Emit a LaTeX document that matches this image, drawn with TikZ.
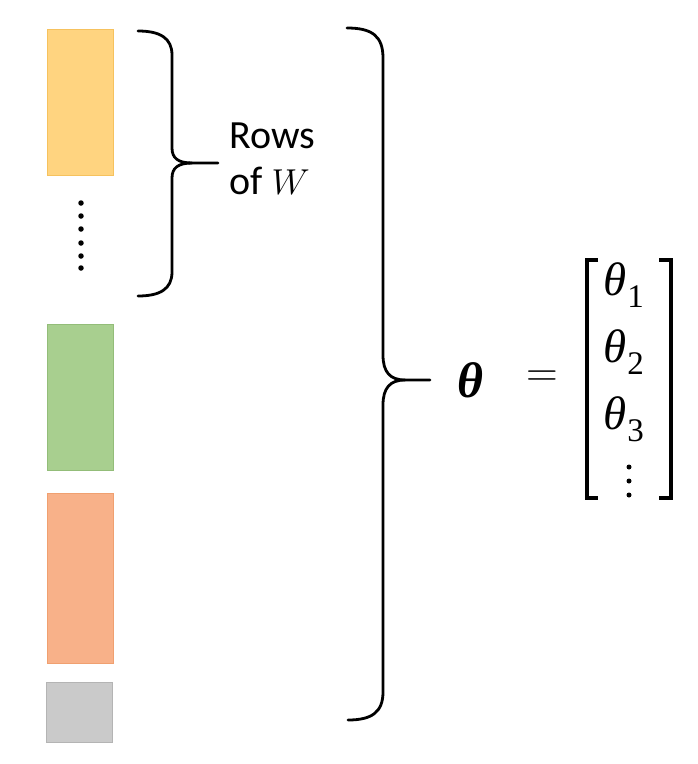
\RequirePackage{fix-cm}
\documentclass[tikz,border=0pt]{standalone}
\usepackage{amsmath}
\usepackage{fontspec}
\newfontfamily\calibri{Carlito}
\newfontfamily\tms{Liberation Serif}
\definecolor{yelfill}{HTML}{FFD480}
\definecolor{yeldraw}{HTML}{F6C25E}
\definecolor{grnfill}{HTML}{A8CF8F}
\definecolor{grndraw}{HTML}{93BD79}
\definecolor{orgfill}{HTML}{F8B189}
\definecolor{orgdraw}{HTML}{F0A070}
\definecolor{gryfill}{HTML}{CACACA}
\definecolor{grydraw}{HTML}{B4B4B4}
\newcommand{\thetaentry}[1]{{\tms\itshape θ}\hspace{1pt}\raisebox{-12pt}{\tms\fontsize{33}{33}\selectfont #1}}
\tikzset{
  rowbox/.style={rectangle, inner sep=0pt, line width=0.8pt, minimum width=66pt},
  brace/.style={line width=2.8pt, line cap=round, line join=round, black},
  bracket/.style={line width=3.6pt, line cap=butt, line join=miter, black},
  lbl/.style={inner sep=0pt, font=\calibri\fontsize{40}{46}\selectfont},
  mth/.style={inner sep=0pt, font=\fontsize{47}{52}\selectfont},
  dotmark/.style={circle, fill=black, inner sep=0pt, minimum size=5.5pt}
}
\begin{document}
\begin{tikzpicture}[x=1pt,y=-1pt]
\useasboundingbox (0,0) rectangle (698,764);
\fill[white] (0,0) rectangle (698,764);
% coloured rows
\node[rowbox, fill=yelfill, draw=yeldraw, minimum height=146pt] (r1) at (80,102) {};
\node[rowbox, fill=grnfill, draw=grndraw, minimum height=146pt] (r2) at (80,397) {};
\node[rowbox, fill=orgfill, draw=orgdraw, minimum height=170pt] (r3) at (80,578) {};
\node[rowbox, fill=gryfill, draw=grydraw, minimum height=60pt] (r4) at (79,712) {};
% vertical dots
\foreach \yy [count=\i] in {203,216,229,243,256,268}
  \node[dotmark] (d\i) at (81,\yy) {};
% small brace
\draw[brace] (138,31) .. controls (160,31) and (172,38) .. (172,55) -- (172,148)
  .. controls (172,158) and (178,163) .. (192,163) -- (218,163);
\draw[brace] (192,163) .. controls (178,163) and (172,168) .. (172,178) -- (172,272)
  .. controls (172,289) and (160,296) .. (138,296);
\node[lbl, anchor=base west] (rows) at (229,148) {Rows};
\node[lbl, anchor=base west] (ofw) at (229,194) {of {\fontsize{36}{40}\selectfont$W$}};
% large brace
\draw[brace] (347,28) .. controls (372,28) and (383,36) .. (383,58) -- (383,355)
  .. controls (383,372) and (390,380) .. (405,380) -- (430,380);
\draw[brace] (405,380) .. controls (390,380) and (383,388) .. (383,405) -- (383,692)
  .. controls (383,712) and (372,720) .. (348,720);
% theta = vector
\node[inner sep=0pt, font=\tms\bfseries\itshape\fontsize{50}{56}\selectfont] (th) at (470,380) {θ};
\node[inner sep=0pt, font=\fontsize{44}{50}\selectfont] (eq) at (542,379) {$=$};
\draw[bracket] (598,260) -- (587,260) -- (587,498) -- (598,498);
\draw[bracket] (659,260) -- (671,260) -- (671,498) -- (659,498);
\node[mth, anchor=base west] (t1) at (603,295) {\thetaentry{1}};
\node[mth, anchor=base west] (t2) at (603,362) {\thetaentry{2}};
\node[mth, anchor=base west] (t3) at (603,429) {\thetaentry{3}};
\node[dotmark, minimum size=5pt] (v1) at (629,467) {};
\node[dotmark, minimum size=5pt] (v2) at (629,481) {};
\node[dotmark, minimum size=5pt] (v3) at (629,495) {};
\end{tikzpicture}
\end{document}
